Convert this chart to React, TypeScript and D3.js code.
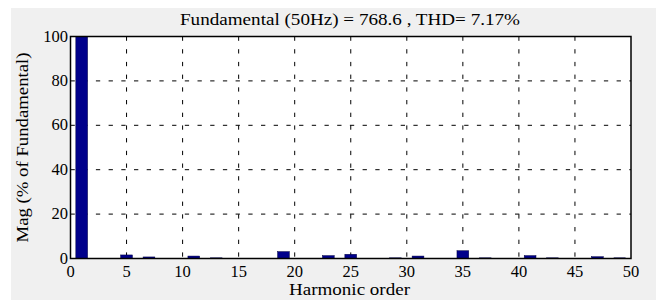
import React, { useRef, useEffect } from 'react';
import { select, scaleLinear, range } from 'd3';

// harmonic spectrum (% of fundamental)
const harmonics = [1, 5, 7, 11, 13, 19, 23, 25, 29, 31, 35, 37, 41, 43, 47, 49];
const magnitudes = [100, 1.6, 0.7, 1.1, 0.3, 3.1, 1.3, 1.9, 0.3, 1.1, 3.5, 0.3, 1.3, 0.3, 0.8, 0.3];
const xTicks = [0, 5, 10, 15, 20, 25, 30, 35, 40, 45, 50];
const yTicks = [0, 20, 40, 60, 80, 100];
const title = 'Fundamental (50Hz) = 768.6 , THD= 7.17%';

const W = 656;
const H = 300;
const font = '"Liberation Serif", "Times New Roman", serif';

const App = () => {
  const svgRef = useRef(null);

  useEffect(() => {
    const svg = select(svgRef.current);
    svg.selectAll('*').remove();

    const left = 70.5, right = 631, top = 36.5, bottom = 258.5;
    const x = scaleLinear().domain([0, 50]).range([left, right]);
    const y = scaleLinear().domain([0, 100]).range([bottom, top]);

    svg.append('rect').attr('x', 11).attr('y', 8).attr('width', W - 11).attr('height', H - 8).attr('fill', '#f0f0f0');
    svg.append('rect').attr('x', left).attr('y', top).attr('width', right - left).attr('height', bottom - top).attr('fill', '#fff');

    // dashed grid
    svg.append('g')
      .selectAll('line')
      .data(xTicks.slice(1, -1))
      .join('line')
      .attr('x1', (d) => x(d)).attr('x2', (d) => x(d))
      .attr('y1', top).attr('y2', bottom)
      .attr('stroke', '#000').attr('stroke-width', 1).attr('stroke-dasharray', '4.3,8.4');
    svg.append('g')
      .selectAll('line')
      .data(yTicks.slice(1, -1))
      .join('line')
      .attr('x1', left).attr('x2', right)
      .attr('y1', (d) => y(d)).attr('y2', (d) => y(d))
      .attr('stroke', '#000').attr('stroke-width', 1).attr('stroke-dasharray', '4.3,8.4');

    const bw = (x(1) - x(0)) * 1.05;
    svg.append('g')
      .selectAll('rect')
      .data(range(harmonics.length))
      .join('rect')
      .attr('x', (i) => x(harmonics[i]) - bw / 2)
      .attr('width', bw)
      .attr('y', (i) => y(magnitudes[i]))
      .attr('height', (i) => bottom - y(magnitudes[i]))
      .attr('fill', '#00008b')
      .attr('stroke', '#000040')
      .attr('stroke-width', 0.5);

    // box
    svg.append('rect').attr('x', left).attr('y', top).attr('width', right - left).attr('height', bottom - top)
      .attr('fill', 'none').attr('stroke', '#000').attr('stroke-width', 1.5);

    svg.append('g')
      .selectAll('text')
      .data(xTicks)
      .join('text')
      .attr('x', (d) => x(d)).attr('y', 277)
      .attr('text-anchor', 'middle')
      .style('font-family', font).style('font-size', '16.5px')
      .text((d) => d);

    svg.append('g')
      .selectAll('text')
      .data(yTicks)
      .join('text')
      .attr('x', 68).attr('y', (d) => y(d) + 5)
      .attr('text-anchor', 'end')
      .style('font-family', font).style('font-size', '16.5px')
      .text((d) => d);

    svg.append('text').attr('x', 350).attr('y', 25)
      .attr('text-anchor', 'middle')
      .attr('textLength', 340).attr('lengthAdjust', 'spacingAndGlyphs')
      .style('font-family', font).style('font-size', '16px')
      .text(title);
    svg.append('text').attr('x', 349.5).attr('y', 295)
      .attr('text-anchor', 'middle')
      .attr('textLength', 121).attr('lengthAdjust', 'spacingAndGlyphs')
      .style('font-family', font).style('font-size', '16px')
      .text('Harmonic order');
    svg.append('text')
      .attr('transform', `translate(28,${(top + bottom) / 2}) rotate(-90)`)
      .attr('text-anchor', 'middle')
      .attr('textLength', 190).attr('lengthAdjust', 'spacingAndGlyphs')
      .style('font-family', font).style('font-size', '16px')
      .text('Mag (% of Fundamental)');
  }, []);

  return (
    <svg ref={svgRef} width={W} height={H} style={{ position: 'absolute', left: 0, top: 0 }} />
  );
};

export default App;
